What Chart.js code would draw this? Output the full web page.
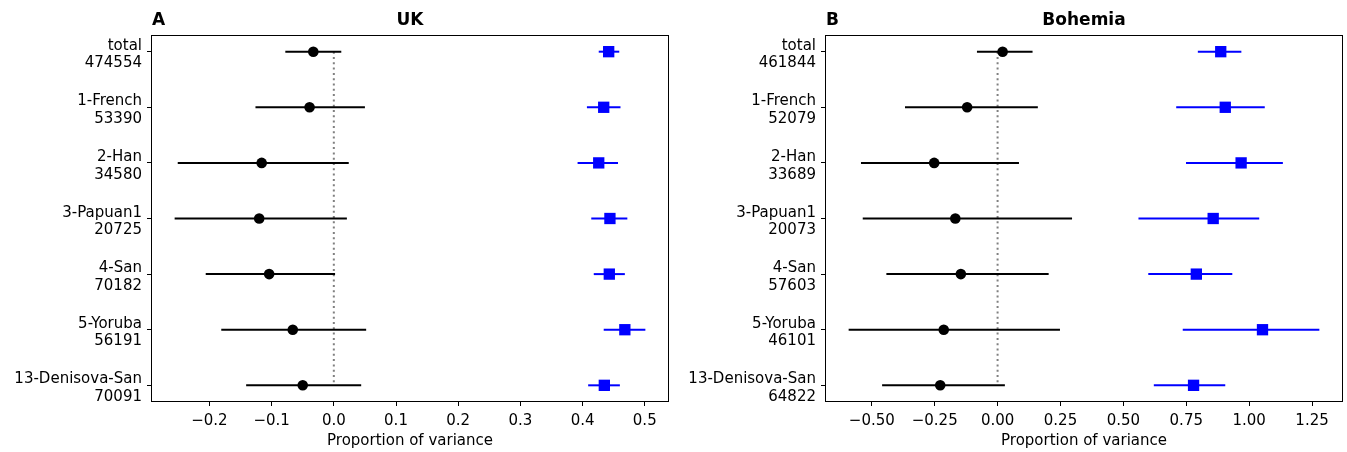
<!DOCTYPE html>
<html>
<head>
<meta charset="utf-8">
<script src="https://cdn.jsdelivr.net/npm/chart.js@4.4.1/dist/chart.umd.min.js"></script>
<style>
  html, body { margin: 0; padding: 0; background: #fff; }
  #wrapA { position: absolute; left: 0; top: 0; width: 673px; height: 452px; }
  #wrapB { position: absolute; left: 673px; top: 0; width: 674px; height: 452px; }
</style>
</head>
<body>
<div id="wrapA"><canvas id="chartA"></canvas></div>
<div id="wrapB"><canvas id="chartB"></canvas></div>
<script>
// ---- data ----
const categories = ['total', '1-French', '2-Han', '3-Papuan1', '4-San', '5-Yoruba', '13-Denisova-San'];
const ukCounts = ['474554', '53390', '34580', '20725', '70182', '56191', '70091'];
const bohCounts = ['461844', '52079', '33689', '20073', '57603', '46101', '64822'];

const ukBlackMean = [-0.033, -0.039, -0.116, -0.120, -0.104, -0.066, -0.050];
const ukBlackLo   = [-0.078, -0.126, -0.251, -0.256, -0.206, -0.181, -0.141];
const ukBlackHi   = [ 0.012,  0.050,  0.024,  0.021,  0.002,  0.052,  0.044];
const ukBlueMean  = [0.442, 0.434, 0.426, 0.444, 0.443, 0.468, 0.435];
const ukBlueLo    = [0.426, 0.407, 0.392, 0.414, 0.418, 0.434, 0.409];
const ukBlueHi    = [0.459, 0.461, 0.457, 0.472, 0.468, 0.501, 0.460];

const bohBlackMean = [ 0.020, -0.121, -0.252, -0.168, -0.146, -0.214, -0.228];
const bohBlackLo   = [-0.082, -0.368, -0.543, -0.536, -0.442, -0.592, -0.459];
const bohBlackHi   = [ 0.139,  0.160,  0.085,  0.296,  0.203,  0.248,  0.029];
const bohBlueMean  = [0.887, 0.905, 0.968, 0.857, 0.790, 1.053, 0.779];
const bohBlueLo    = [0.796, 0.710, 0.749, 0.560, 0.599, 0.736, 0.621];
const bohBlueHi    = [0.969, 1.062, 1.134, 1.040, 0.933, 1.279, 0.905];

const ukXTicks = [-0.2, -0.1, 0, 0.1, 0.2, 0.3, 0.4, 0.5];
const ukXLabels = ['\u22120.2', '\u22120.1', '0.0', '0.1', '0.2', '0.3', '0.4', '0.5'];
const bohXTicks = [-0.5, -0.25, 0, 0.25, 0.5, 0.75, 1.0, 1.25];
const bohXLabels = ['\u22120.50', '\u22120.25', '0.00', '0.25', '0.50', '0.75', '1.00', '1.25'];

const ukXRange = [-0.294, 0.539];
const bohXRange = [-0.686, 1.373];
const yRange = [-0.3, 6.3];

const FONT = '"DejaVu Sans", "Liberation Sans", sans-serif';

const framePlugin = {
  id: 'frame',
  afterDraw(chart, args, opts) {
    const { ctx, chartArea: a } = chart;
    ctx.save();
    ctx.strokeStyle = '#000';
    ctx.lineWidth = 1;
    const l = Math.round(a.left) + 0.5, t = Math.round(a.top) + 0.5;
    const r = Math.round(a.right) - 0.5, b = Math.round(a.bottom) - 0.5;
    ctx.strokeRect(l, t, r - l, b - t);
    ctx.fillStyle = '#000';
    ctx.font = 'bold 17px ' + FONT;
    ctx.textBaseline = 'alphabetic';
    ctx.textAlign = 'left';
    ctx.fillText(opts.letter, a.left + 1, 25);
    ctx.textAlign = 'center';
    ctx.fillText(opts.title, (a.left + a.right) / 2, 25);
    ctx.restore();
  }
};

function buildChart(canvasId, counts, bm, bl, bh, um, ul, uh, xRange, xTicks, xLabels, letter, title, yWidth, padRight) {
  const datasets = [];
  // markers
  datasets.push({
    label: 'black', data: bm.map((v, i) => ({ x: v, y: i })),
    showLine: false, pointStyle: 'circle', pointRadius: 5.3, pointHoverRadius: 5.3,
    pointBackgroundColor: '#000', pointBorderColor: '#000', pointBorderWidth: 0, order: 0
  });
  datasets.push({
    label: 'blue', data: um.map((v, i) => ({ x: v, y: i })),
    showLine: false, pointStyle: 'rect', pointRadius: 8, pointHoverRadius: 8,
    pointBackgroundColor: '#0000ff', pointBorderColor: '#0000ff', pointBorderWidth: 0, order: 0
  });
  // error bars
  for (let i = 0; i < bm.length; i++) {
    datasets.push({
      label: 'eb-black-' + i, data: [{ x: bl[i], y: i }, { x: bh[i], y: i }],
      showLine: true, borderColor: '#000', borderWidth: 2, pointRadius: 0, pointHoverRadius: 0, order: 1
    });
    datasets.push({
      label: 'eb-blue-' + i, data: [{ x: ul[i], y: i }, { x: uh[i], y: i }],
      showLine: true, borderColor: '#0000ff', borderWidth: 2, pointRadius: 0, pointHoverRadius: 0, order: 1
    });
  }
  // zero reference line
  datasets.push({
    label: 'zero', data: [{ x: 0, y: 0 }, { x: 0, y: bm.length - 1 }],
    showLine: true, borderColor: '#808080', borderWidth: 2, borderDash: [2, 3.3],
    pointRadius: 0, pointHoverRadius: 0, order: 2
  });

  return new Chart(document.getElementById(canvasId), {
    type: 'scatter',
    data: { datasets },
    plugins: [framePlugin],
    options: {
      responsive: true,
      maintainAspectRatio: false,
      animation: false,
      events: [],
      layout: { autoPadding: false, padding: { top: 35, right: padRight, left: 0, bottom: 0 } },
      plugins: {
        legend: { display: false },
        tooltip: { enabled: false },
        frame: { letter, title }
      },
      scales: {
        x: {
          type: 'linear', min: xRange[0], max: xRange[1],
          afterBuildTicks: (s) => { s.ticks = xTicks.map(v => ({ value: v })); },
          afterFit: (s) => { s.height = 50; },
          ticks: {
            color: '#000', font: { family: FONT, size: 15 }, padding: 6, maxRotation: 0,
            callback: (v) => { const k = xTicks.findIndex(t => Math.abs(t - v) < 1e-9); return k >= 0 ? xLabels[k] : ''; }
          },
          grid: { drawOnChartArea: false, drawTicks: true, tickLength: 4, color: '#000', tickWidth: 1 },
          border: { display: false },
          title: { display: true, text: 'Proportion of variance', color: '#000', font: { family: FONT, size: 15 }, padding: { top: 2, bottom: 2 } }
        },
        y: {
          type: 'linear', min: yRange[0], max: yRange[1], reverse: true,
          afterBuildTicks: (s) => { s.ticks = categories.map((c, i) => ({ value: i })); },
          afterFit: (s) => { s.width = yWidth; },
          ticks: {
            color: '#000', font: { family: FONT, size: 15, lineHeight: 1.17 }, padding: 5, labelOffset: 3,
            callback: (v) => { const k = Math.round(v); return [categories[k], counts[k]]; }
          },
          grid: { drawOnChartArea: false, drawTicks: true, tickLength: 4, color: '#000', tickWidth: 1 },
          border: { display: false }
        }
      }
    }
  });
}

buildChart('chartA', ukCounts, ukBlackMean, ukBlackLo, ukBlackHi, ukBlueMean, ukBlueLo, ukBlueHi,
  ukXRange, ukXTicks, ukXLabels, 'A', 'UK', 151, 4);
buildChart('chartB', bohCounts, bohBlackMean, bohBlackLo, bohBlackHi, bohBlueMean, bohBlueLo, bohBlueHi,
  bohXRange, bohXTicks, bohXLabels, 'B', 'Bohemia', 152, 4);
</script>
</body>
</html>
